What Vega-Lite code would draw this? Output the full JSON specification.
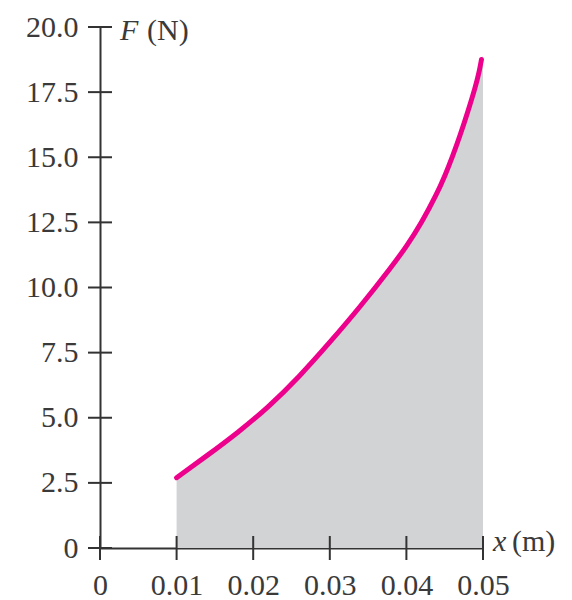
{
  "$schema": "https://vega.github.io/schema/vega-lite/v6.json",
  "width": 383,
  "height": 521,
  "autosize": {"type": "none"},
  "padding": {"left": 100, "top": 27, "right": 89, "bottom": 52},
  "background": "white",
  "config": {
    "view": {"stroke": null},
    "font": "Liberation Serif",
    "axis": {
      "grid": false,
      "ticks": false,
      "domainColor": "#333333",
      "domainWidth": 2,
      "labelFont": "Liberation Serif",
      "labelFontSize": 30,
      "labelColor": "#3a3a3a",
      "title": null
    }
  },
  "datasets": {
    "curve": [
      {"x": 0.01, "F": 2.7},
      {"x": 0.014, "F": 3.55},
      {"x": 0.018, "F": 4.43},
      {"x": 0.022, "F": 5.41},
      {"x": 0.026, "F": 6.57},
      {"x": 0.03, "F": 7.89},
      {"x": 0.034, "F": 9.27},
      {"x": 0.038, "F": 10.77},
      {"x": 0.04, "F": 11.57},
      {"x": 0.042, "F": 12.49},
      {"x": 0.044, "F": 13.61},
      {"x": 0.045, "F": 14.27},
      {"x": 0.046, "F": 15.01},
      {"x": 0.047, "F": 15.83},
      {"x": 0.048, "F": 16.73},
      {"x": 0.049, "F": 17.69},
      {"x": 0.0495, "F": 18.27},
      {"x": 0.0498, "F": 18.75}
    ],
    "shade": [
      {"x": 0.01, "F": 2.7},
      {"x": 0.014, "F": 3.55},
      {"x": 0.018, "F": 4.43},
      {"x": 0.022, "F": 5.41},
      {"x": 0.026, "F": 6.57},
      {"x": 0.03, "F": 7.89},
      {"x": 0.034, "F": 9.27},
      {"x": 0.038, "F": 10.77},
      {"x": 0.04, "F": 11.57},
      {"x": 0.042, "F": 12.49},
      {"x": 0.044, "F": 13.61},
      {"x": 0.045, "F": 14.27},
      {"x": 0.046, "F": 15.01},
      {"x": 0.047, "F": 15.83},
      {"x": 0.048, "F": 16.73},
      {"x": 0.049, "F": 17.69},
      {"x": 0.0495, "F": 18.27},
      {"x": 0.0498, "F": 18.75},
      {"x": 0.05, "F": 18.9}
    ],
    "yticks": [{"v": 0}, {"v": 2.5}, {"v": 5}, {"v": 7.5}, {"v": 10}, {"v": 12.5}, {"v": 15}, {"v": 17.5}, {"v": 20}],
    "xticks": [{"v": 0}, {"v": 0.01}, {"v": 0.02}, {"v": 0.03}, {"v": 0.04}, {"v": 0.05}]
  },
  "layer": [
    {
      "data": {"name": "shade"},
      "mark": {"type": "area", "color": "#d1d3d4", "interpolate": "basis", "opacity": 1},
      "encoding": {
        "x": {
          "field": "x", "type": "quantitative",
          "scale": {"domain": [0, 0.05], "nice": false, "zero": false},
          "axis": {
            "orient": "bottom",
            "values": [0, 0.01, 0.02, 0.03, 0.04, 0.05],
            "labelExpr": "datum.value == 0 ? '0' : format(datum.value, '.2f')",
            "labelPadding": 22,
            "labelFlush": false,
            "labelOverlap": false
          }
        },
        "y": {
          "field": "F", "type": "quantitative",
          "scale": {"domain": [0, 20], "nice": false},
          "axis": {
            "orient": "left",
            "values": [0, 2.5, 5, 7.5, 10, 12.5, 15, 17.5, 20],
            "labelExpr": "datum.value == 0 ? '0' : format(datum.value, '.1f')",
            "labelPadding": 22,
            "labelFlush": false,
            "labelOverlap": false
          }
        }
      }
    },
    {
      "data": {"name": "curve"},
      "mark": {"type": "line", "color": "#ec008c", "strokeWidth": 5, "interpolate": "basis", "strokeCap": "round"},
      "encoding": {
        "x": {"field": "x", "type": "quantitative"},
        "y": {"field": "F", "type": "quantitative"}
      }
    },
    {
      "data": {"name": "yticks"},
      "mark": {"type": "tick", "orient": "horizontal", "size": 24, "thickness": 2, "color": "#333333", "opacity": 1},
      "encoding": {
        "x": {"datum": 0, "type": "quantitative"},
        "y": {"field": "v", "type": "quantitative"}
      }
    },
    {
      "data": {"name": "xticks"},
      "mark": {"type": "tick", "orient": "vertical", "size": 24, "thickness": 2, "color": "#333333", "opacity": 1},
      "encoding": {
        "x": {"field": "v", "type": "quantitative"},
        "y": {"datum": 0, "type": "quantitative"}
      }
    },
    {
      "data": {"values": [{}]},
      "mark": {"type": "text", "text": "F", "fontStyle": "italic", "fontSize": 30, "align": "left", "baseline": "middle", "dx": 20, "dy": 4, "color": "#3a3a3a"},
      "encoding": {"x": {"datum": 0, "type": "quantitative"}, "y": {"datum": 20, "type": "quantitative"}}
    },
    {
      "data": {"values": [{}]},
      "mark": {"type": "text", "text": "(N)", "fontSize": 30, "align": "left", "baseline": "middle", "dx": 47, "dy": 4, "color": "#3a3a3a"},
      "encoding": {"x": {"datum": 0, "type": "quantitative"}, "y": {"datum": 20, "type": "quantitative"}}
    },
    {
      "data": {"values": [{}]},
      "mark": {"type": "text", "text": "x", "fontStyle": "italic", "fontSize": 30, "align": "left", "baseline": "middle", "dx": 10, "dy": -6, "color": "#3a3a3a"},
      "encoding": {"x": {"datum": 0.05, "type": "quantitative"}, "y": {"datum": 0, "type": "quantitative"}}
    },
    {
      "data": {"values": [{}]},
      "mark": {"type": "text", "text": "(m)", "fontSize": 30, "align": "left", "baseline": "middle", "dx": 29, "dy": -6, "color": "#3a3a3a"},
      "encoding": {"x": {"datum": 0.05, "type": "quantitative"}, "y": {"datum": 0, "type": "quantitative"}}
    }
  ]
}
